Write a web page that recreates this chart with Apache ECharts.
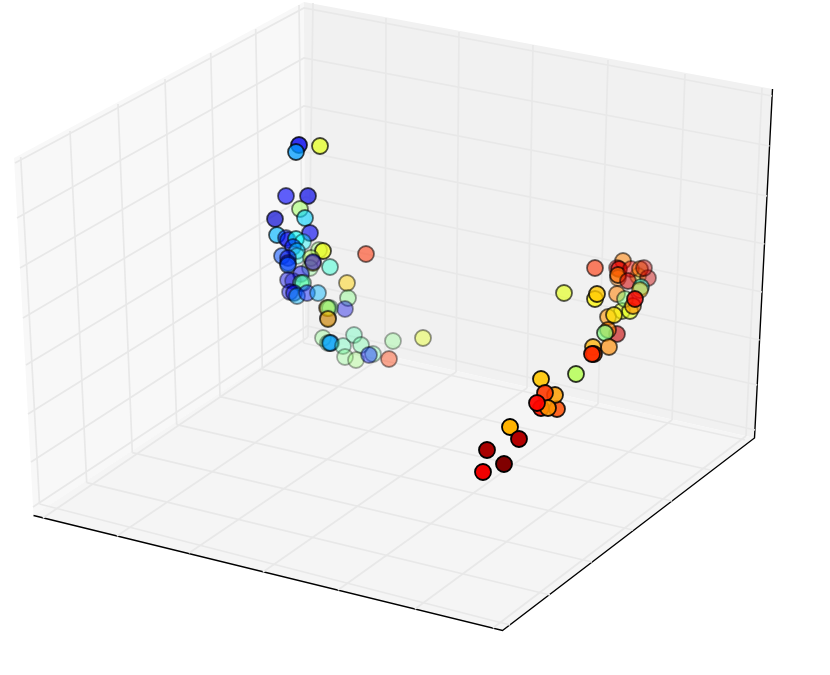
<!DOCTYPE html>
<html>
<head>
<meta charset="utf-8">
<style>html,body{margin:0;padding:0;background:#fff}#c{width:830px;height:675px}</style>
<script src="https://cdn.jsdelivr.net/npm/echarts@6/dist/echarts.min.js"></script>
</head>
<body>
<div id="c"></div>
<script>
// Projected positions of the scatter points, on the picture plane
const pointX = [299,296,320,286,308,300,305,275,310,277,286,288,296,303,293,297,297,282,288,288,288,319,323,311,310,313,313,330,366,347,348,345,301,288,293,301,303,290,294,297,307,318,328,327,330,328,328,323,328,331,330,343,354,361,345,356,373,369,393,423,389,
  595,564,595,597,638,623,617,619,618,618,631,640,648,644,628,641,640,617,622,630,625,633,635,608,614,617,608,605,609,593,594,592,576,541,557,541,555,545,548,537,510,519,487,504,483];
const pointY = [145,152,146,196,196,209,218,219,233,235,238,240,239,242,247,251,256,256,258,263,265,250,251,258,268,263,262,267,254,283,298,309,274,280,281,283,283,292,293,296,293,293,318,308,308,308,319,338,343,343,343,346,335,345,357,360,354,355,341,338,359,
  268,293,299,294,276,261,268,269,278,275,269,269,278,268,281,287,290,294,311,311,299,306,299,317,315,334,330,333,347,347,354,354,374,379,409,408,395,393,408,403,427,439,450,464,472];
// Colour value of each point on the jet scale, 0 to 1
const pointColor = [.11,.28,.60,.12,.10,.53,.33,.08,.11,.30,.15,.10,.38,.37,.15,.32,.40,.20,.10,.12,.22,.52,.61,.55,.50,.70,.12,.42,.83,.67,.50,.10,.10,.10,.08,.47,.45,.10,.10,.30,.15,.30,.10,.70,.48,.50,.70,.50,.45,.20,.30,.45,.45,.47,.50,.52,.47,.15,.50,.60,.82,
  .83,.60,.63,.68,.62,.75,.90,.90,.75,.77,.88,.75,.93,.93,.92,.40,.70,.75,.60,.60,.50,.73,.88,.73,.65,.93,.75,.50,.74,.70,.80,.83,.55,.68,.80,.85,.72,.82,.73,.87,.70,.95,.96,1,.89];
// Nearness to the viewer of each point, 0 to 1
const pointDepth = [.80,.75,.72,.62,.68,.55,.60,.68,.62,.65,.50,.50,.62,.40,.50,.50,.35,.55,.50,.50,.55,.40,.72,.45,.35,.45,.50,.48,.55,.48,.40,.40,.50,.45,.35,.55,.45,.45,.50,.45,.45,.45,.40,.55,.35,.45,.65,.35,.35,.45,.60,.35,.35,.35,.32,.32,.32,.42,.32,.42,.42,
  .60,.65,.75,.80,.40,.55,.45,.65,.45,.70,.45,.50,.45,.45,.55,.55,.50,.55,.60,.65,.50,.65,.80,.60,.70,.60,.65,.70,.65,.75,.85,.90,.80,.90,.85,.95,.85,.90,.90,.95,1,1,1,1,1];

// Axes box, as corners on the picture plane: [x, y, x, y, ...]
const paneLeft  = [33.5,515.5, 14,158, 304,2, 305,337];
const paneBack  = [305,337, 304,2, 772.5,89, 754.5,438];
const paneFloor = [33.5,515.5, 502.5,630.5, 754.5,438, 305,337];
const axisEdge  = [33.5,515.5, 502.5,630.5, 754.5,438, 772.5,89];

// Grid lines on the panes
const zLevels = [
  [15,163,304,8,772,96],[17,218,304,58,769.5,146],[20,268,304,106,767,196],[23,318,305,152,764.5,244],
  [26,365,305,197,762,292],[28,414,306,241,759.6,340],[31,462,306,284,757.2,385],[33,507,307,326,755,430]];
const leftVerticals = [
  [20.7,157,39.5,504],[70,131,86.7,482.7],[118,104,132.3,452.7],[165,79,176.7,424.7],
  [210.7,53,220,396.7],[255.7,29,262.3,369.3],[299,5,303.5,343]];
const backVerticals = [
  [313,3,308,337],[386,18,385,355],[459,32,456,372],[533,45,527,388],
  [608,60,598,404],[685,74,672,420],[762,88,746,436]];
const floorAcross = [
  [39.5,504,510,625],[86.7,482.7,550,595],[132.3,452.7,592,562],[176.7,424.7,633,530],
  [220,396.7,672,501],[262.3,369.3,710,470],[303.5,343,745,440]];
const floorAlong = [
  [43,518,308,337],[117,536,385,355],[189,553,456,372],[263,572,527,388],
  [338,590,598,404],[415,609,672,420],[493,628,746,436]];

function jet(v) {
  const ch = t => Math.round(255 * Math.max(0, Math.min(1, t)));
  const r = ch(Math.min(4 * v - 1.5, -4 * v + 4.5));
  const g = ch(Math.min(4 * v - 0.5, -4 * v + 3.5));
  const b = ch(Math.min(4 * v + 0.5, -4 * v + 2.5));
  return `rgb(${r},${g},${b})`;
}
function flatToPairs(a) { const o = []; for (let i = 0; i < a.length; i += 2) o.push([a[i], a[i+1]]); return o; }

function shapeSeries(name, rows, z, styleOf, closed) {
  return {
    name, type: 'custom', coordinateSystem: 'cartesian2d', silent: true, z, animation: false, clip: false,
    encode: { x: 0, y: 1 },
    data: rows.map((r, i) => [r[0], r[1], i]),
    renderItem: (params, api) => {
      const pts = flatToPairs(rows[api.value(2)]).map(p => api.coord(p));
      return { type: closed ? 'polygon' : 'polyline', shape: { points: pts }, style: styleOf(api.value(2)) };
    }
  };
}

const paneColors = ['#f8f8f8', '#f1f1f1', '#f5f5f5'];
const gridStyle = () => ({ fill: null, stroke: '#e8e8e8', lineWidth: 1.7 });

const option = {
  animation: false,
  backgroundColor: '#fff',
  grid: { left: 0, right: 0, top: 0, bottom: 0 },
  xAxis: { type: 'value', min: 0, max: 830, show: false },
  yAxis: { type: 'value', min: 0, max: 675, inverse: true, show: false },
  series: [
    shapeSeries('panes', [paneLeft, paneBack, paneFloor], 1, i => ({ fill: paneColors[i] }), true),
    shapeSeries('axes', [axisEdge], 2, () => ({ fill: null, stroke: '#000', lineWidth: 1.4 }), false),
    shapeSeries('grid', [...zLevels, ...leftVerticals, ...backVerticals, ...floorAcross, ...floorAlong], 3, gridStyle, false),
    {
      name: 'points', type: 'scatter', z: 4, silent: true, symbol: 'circle', symbolSize: 16,
      data: pointX.map((x, i) => ({
        value: [x, pointY[i]],
        itemStyle: { color: jet(pointColor[i]), opacity: pointDepth[i], borderColor: '#000', borderWidth: 1.8 }
      }))
    }
  ]
};
const chart = echarts.init(document.getElementById('c'), null, { renderer: 'canvas' });
chart.setOption(option);
</script>
</body>
</html>
